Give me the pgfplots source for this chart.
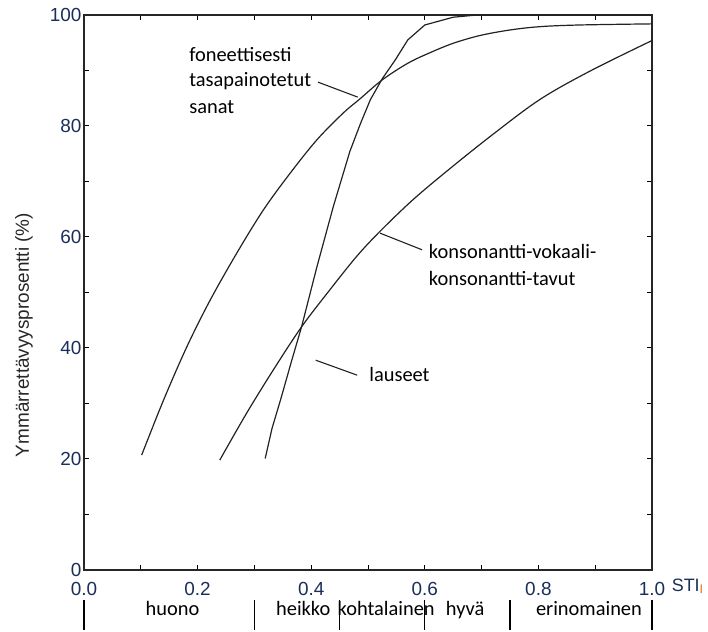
\documentclass[border=0pt]{standalone}
\usepackage{pgfplots}
\pgfplotsset{compat=1.18}
\usepackage{fontspec}
\setmainfont{Liberation Sans}
\newfontfamily\calibri{Carlito}
\definecolor{tickblue}{HTML}{1A2E5A}
\definecolor{curve}{HTML}{222222}
\definecolor{stisub}{HTML}{E07020}

\pgfplotstableread{
x y
0.1015 20.7
0.140 30.6
0.181 40.2
0.222 48.6
0.269 57.1
0.316 64.9
0.363 71.5
0.410 77.5
0.456 82.3
0.486 84.9
0.525 88.3
0.570 91.3
0.609 93.2
0.650 94.9
0.697 96.3
0.750 97.3
0.803 97.9
0.873 98.2
1.000 98.4
}\sanat

\pgfplotstableread{
x y
0.319 20.1
0.331 25.5
0.347 31.0
0.365 37.5
0.383 43.8
0.410 54.6
0.439 65.5
0.468 75.4
0.487 80.5
0.504 84.7
0.525 88.5
0.548 91.9
0.570 95.5
0.600 98.2
0.650 99.6
0.692 100
1.000 100
}\lauseet

\pgfplotstableread{
x y
0.239 19.8
0.286 28.2
0.333 36.0
0.383 43.8
0.433 50.5
0.480 56.5
0.521 61.0
0.579 66.7
0.644 72.3
0.720 78.5
0.803 84.8
0.891 89.9
1.000 95.4
}\tavut

\begin{document}
\begin{tikzpicture}
\begin{axis}[
  scale only axis, width=568bp, height=555bp,
  xmin=0, xmax=1, ymin=0, ymax=100,
  xtick={0,0.2,0.4,0.6,0.8,1}, minor xtick={0.1,0.3,0.5,0.7,0.9},
  ytick={0,20,40,60,80,100}, minor ytick={10,30,50,70,90},
  tick align=inside, major tick length=5bp, minor tick length=5bp,
  tick style={line width=1bp, black},
  axis line style={line width=1.2bp, black!85},
  /pgf/number format/assume math mode=true,
  ticklabel style={font=\fontsize{19}{19}\selectfont, text=tickblue},
  yticklabel style={xshift=1bp},
  xticklabel style={/pgf/number format/fixed, /pgf/number format/fixed zerofill,
    /pgf/number format/precision=1, yshift=-9bp},
  ylabel={Ymmärrettävyysprosentti (\%)},
  ylabel style={at={(rel axis cs:-0.1056,0.4234)}, anchor=center, rotate=0,
    font=\fontsize{19}{19}\selectfont, text=black!85},
  clip=false,
]
\addplot[curve, line width=1.2bp, smooth, tension=0.55] table {\sanat};
\addplot[curve, line width=1.2bp] table {\lauseet};
\addplot[curve, line width=1.2bp, smooth, tension=0.55] table {\tavut};

% annotations
\node[anchor=base west, inner sep=0, font=\calibri\fontsize{20.5}{20.5}\selectfont] at (axis cs:0.185,91.53) {foneettisesti};
\node[anchor=base west, inner sep=0, font=\calibri\fontsize{20.5}{20.5}\selectfont] at (axis cs:0.185,87.03) {tasapainotetut};
\node[anchor=base west, inner sep=0, font=\calibri\fontsize{20.5}{20.5}\selectfont] at (axis cs:0.185,82.34) {sanat};
\draw[curve, line width=1.1bp] (axis cs:0.412,87.9) -- (axis cs:0.482,85.2);

\node[anchor=base west, inner sep=0, font=\calibri\fontsize{20.5}{20.5}\selectfont] at (axis cs:0.607,56.2) {konsonantti-vokaali-};
\node[anchor=base west, inner sep=0, font=\calibri\fontsize{20.5}{20.5}\selectfont] at (axis cs:0.607,51.2) {konsonantti-tavut};
\draw[curve, line width=1.1bp] (axis cs:0.521,60.7) -- (axis cs:0.595,57.7);

\node[anchor=base west, inner sep=0, font=\calibri\fontsize{20.5}{20.5}\selectfont] at (axis cs:0.502,33.9) {lauseet};
\draw[curve, line width=1.1bp] (axis cs:0.408,37.8) -- (axis cs:0.481,35.1);

% quality scale below the axis
\draw[black, line width=1.1bp] (axis cs:0,-5.4) -- (axis cs:0,-10.9);
\draw[black, line width=1.1bp] (axis cs:0.3,-5.4) -- (axis cs:0.3,-10.9);
\draw[black, line width=1.1bp] (axis cs:0.45,-5.4) -- (axis cs:0.45,-10.9);
\draw[black, line width=1.1bp] (axis cs:0.6,-5.4) -- (axis cs:0.6,-10.9);
\draw[black, line width=1.1bp] (axis cs:0.75,-5.4) -- (axis cs:0.75,-10.9);
\draw[black, line width=1.1bp] (axis cs:1,-5.4) -- (axis cs:1,-10.9);
\node[anchor=base, font=\calibri\fontsize{20.5}{20.5}\selectfont] at (axis cs:0.156,-8.11) {huono};
\node[anchor=base, font=\calibri\fontsize{20.5}{20.5}\selectfont] at (axis cs:0.386,-8.11) {heikko};
\node[anchor=base, font=\calibri\fontsize{20.5}{20.5}\selectfont] at (axis cs:0.532,-8.11) {kohtalainen};
\node[anchor=base, font=\calibri\fontsize{20.5}{20.5}\selectfont] at (axis cs:0.671,-8.11) {hyvä};
\node[anchor=base, font=\calibri\fontsize{20.5}{20.5}\selectfont] at (axis cs:0.889,-8.11) {erinomainen};

\node[anchor=base west, inner sep=0, text=tickblue, font=\fontsize{18}{18}\selectfont]
  at (axis cs:1.0345,-3.8) {STI\textsubscript{\color{stisub}I}};
\end{axis}
\path ([shift={(-84bp,-61bp)}]current axis.south west)
  rectangle ([shift={(56bp,15bp)}]current axis.north east);
\end{tikzpicture}
\end{document}
